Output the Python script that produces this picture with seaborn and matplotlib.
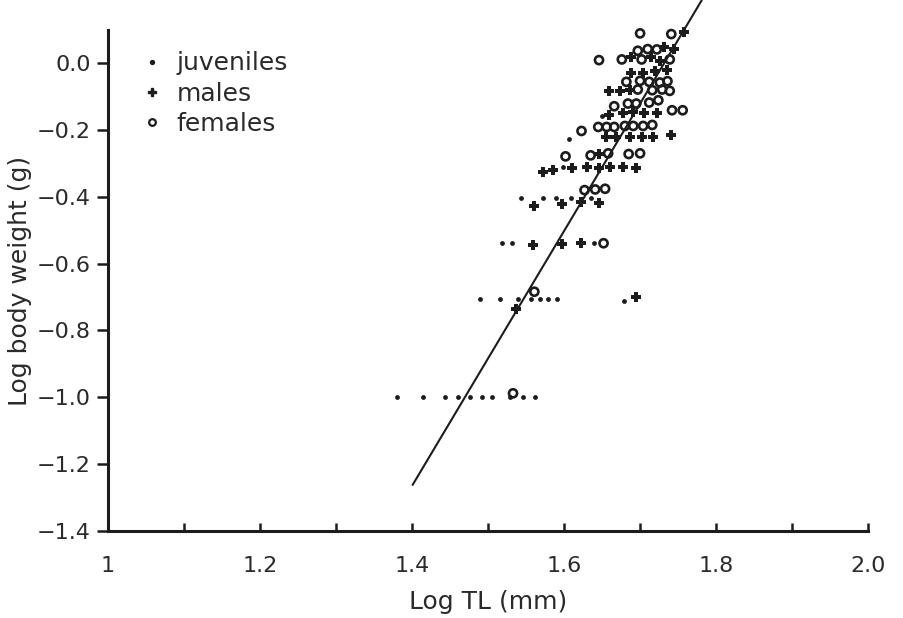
import numpy as np
import seaborn as sns
import matplotlib.pyplot as plt
from matplotlib.lines import Line2D

# data (log TL in mm, log body weight in g)
juv_x = [1.381, 1.415, 1.443, 1.460, 1.477, 1.492, 1.506, 1.529, 1.546, 1.562,
         1.490, 1.516, 1.540, 1.556, 1.568, 1.579, 1.591, 1.679,
         1.518, 1.532, 1.639,
         1.544, 1.573, 1.589, 1.609, 1.635,
         1.599, 1.607, 1.650]
juv_y = [-1.00, -1.00, -1.00, -1.00, -1.00, -1.00, -1.00, -1.00, -1.00, -1.00,
         -0.706, -0.706, -0.706, -0.706, -0.706, -0.706, -0.706, -0.711,
         -0.537, -0.537, -0.537,
         -0.405, -0.405, -0.405, -0.405, -0.405,
         -0.310, -0.228, -0.159]

male_x = [1.758, 1.731, 1.745, 1.688, 1.715, 1.726, 1.688, 1.704, 1.720, 1.735,
          1.659, 1.673, 1.687, 1.659, 1.678, 1.691, 1.705, 1.722,
          1.655, 1.669, 1.687, 1.702, 1.717, 1.741, 1.646,
          1.572, 1.586, 1.610, 1.630, 1.646, 1.660, 1.677, 1.695,
          1.560, 1.598, 1.622, 1.646, 1.559, 1.597, 1.622, 1.537, 1.695]
male_y = [0.094, 0.049, 0.041, 0.017, 0.017, 0.007, -0.029, -0.029, -0.024, -0.021,
          -0.083, -0.083, -0.081, -0.156, -0.149, -0.146, -0.150, -0.149,
          -0.220, -0.220, -0.220, -0.220, -0.220, -0.215, -0.273,
          -0.326, -0.320, -0.315, -0.310, -0.313, -0.311, -0.310, -0.314,
          -0.428, -0.422, -0.415, -0.420, -0.543, -0.541, -0.538, -0.737, -0.701]

fem_x = [1.700, 1.741, 1.697, 1.710, 1.722, 1.646, 1.676, 1.702, 1.739,
         1.682, 1.700, 1.712, 1.726, 1.736, 1.697, 1.716, 1.729, 1.739,
         1.666, 1.684, 1.695, 1.712, 1.724, 1.742, 1.756,
         1.623, 1.645, 1.656, 1.666, 1.680, 1.691, 1.704, 1.716,
         1.602, 1.635, 1.658, 1.685, 1.700,
         1.627, 1.641, 1.654, 1.652, 1.561, 1.533]
fem_y = [0.089, 0.087, 0.037, 0.042, 0.041, 0.009, 0.011, 0.011, 0.011,
         -0.056, -0.053, -0.056, -0.058, -0.054, -0.079, -0.081, -0.079, -0.083,
         -0.129, -0.121, -0.121, -0.118, -0.111, -0.141, -0.141,
         -0.203, -0.191, -0.191, -0.191, -0.188, -0.188, -0.188, -0.185,
         -0.279, -0.276, -0.270, -0.272, -0.270,
         -0.380, -0.378, -0.376, -0.539, -0.684, -0.988]

# fitted regression line end points
line_x = [1.401, 1.781]
line_y = [-1.262, 0.188]

x_ticks = [1.0, 1.1, 1.2, 1.3, 1.4, 1.5, 1.6, 1.7, 1.8, 1.9, 2.0]
x_labels = ['1', '', '1.2', '', '1.4', '', '1.6', '', '1.8', '', '2.0']
y_ticks = [0.0, -0.2, -0.4, -0.6, -0.8, -1.0, -1.2, -1.4]
y_labels = ['0.0', '\u22120.2', '\u22120.4', '\u22120.6', '\u22120.8',
            '\u22121.0', '\u22121.2', '\u22121.4']

sns.set_style('ticks')
plt.rcParams['font.family'] = ['DejaVu Sans']
ink = '#1c1c1c'
txt = '#2a2a2a'

fig = plt.figure(figsize=(9.04, 6.18), dpi=100)
ax = fig.add_axes([0.119, 0.1408, 0.8415, 0.8598])

# points
sns.scatterplot(x=juv_x, y=juv_y, ax=ax, marker='o', s=12, color=ink,
                edgecolor=ink, linewidth=0, clip_on=False)
sns.scatterplot(x=male_x, y=male_y, ax=ax, marker='P', s=46, color=ink,
                edgecolor=ink, linewidth=0, clip_on=False)
sns.scatterplot(x=fem_x, y=fem_y, ax=ax, marker='o', s=34, facecolor='none',
                edgecolor=ink, linewidth=1.9, clip_on=False)

# regression line
sns.lineplot(x=line_x, y=line_y, ax=ax, color=ink, lw=1.5, clip_on=False)

ax.set_xlim(1.0, 2.0)
ax.set_ylim(-1.4, 0.19)

# axes look
for s in ['top', 'right']:
    ax.spines[s].set_visible(False)
for s in ['left', 'bottom']:
    ax.spines[s].set_linewidth(2.2)
    ax.spines[s].set_color(ink)
ax.spines['left'].set_bounds(-1.4, 0.1)

ax.set_xticks(x_ticks)
ax.set_xticklabels(x_labels, fontsize=16, color=txt)
ax.set_yticks(y_ticks)
ax.set_yticklabels(y_labels, fontsize=16, color=txt)
ax.tick_params(axis='x', direction='in', length=6, width=1.8, pad=18, color=ink)
ax.tick_params(axis='y', direction='out', length=8, width=1.8, pad=4, color=ink)

ax.set_xlabel('Log TL (mm)', fontsize=18, color=txt, labelpad=10)
ax.set_ylabel('Log body weight (g)', fontsize=18, color=txt)
ax.yaxis.set_label_coords(-0.1, 0.47)

# legend
handles = [
    Line2D([], [], ls='none', marker='o', ms=2.8, color=ink),
    Line2D([], [], ls='none', marker='P', ms=5.5, color=ink),
    Line2D([], [], ls='none', marker='o', ms=4.8, mfc='none', mec=ink, mew=1.6),
]
ax.legend(handles, ['juveniles', 'males', 'females'], loc='upper left',
          bbox_to_anchor=(0.012, 0.945), frameon=False, fontsize=18,
          handlelength=1.0, handletextpad=0.5, labelspacing=0.25,
          labelcolor=txt)

plt.savefig('out.png', dpi=100)
